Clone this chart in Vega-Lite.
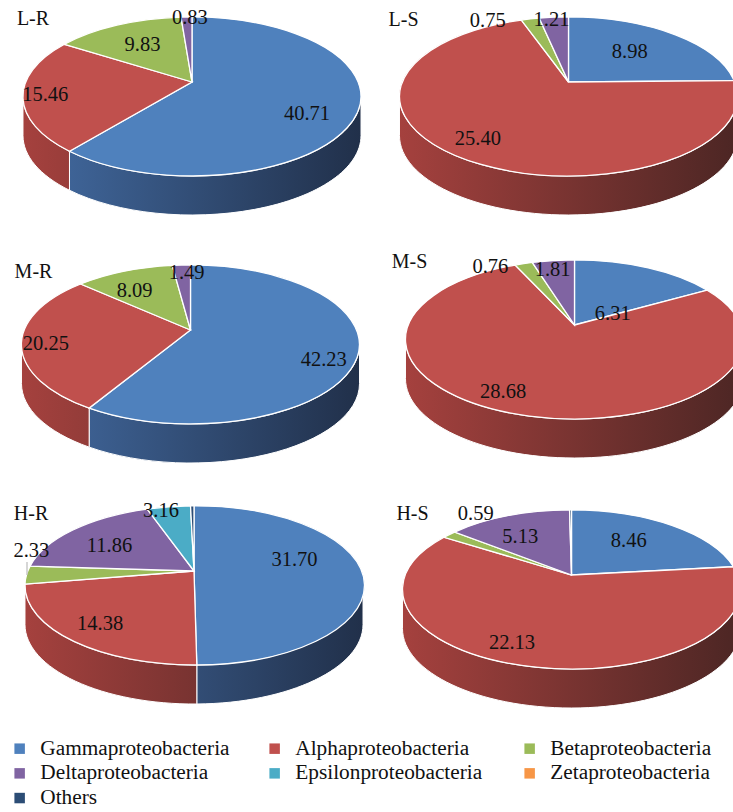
{
"$schema":"https://vega.github.io/schema/vega-lite/v6.json",
"padding":0,
"background":"white",
"config":{"view":{"stroke":null},"font":"Liberation Serif"},
"data":{"values":[
{"panel":"L-R","category":"Gammaproteobacteria","value":40.71},
{"panel":"L-R","category":"Alphaproteobacteria","value":15.46},
{"panel":"L-R","category":"Betaproteobacteria","value":9.83},
{"panel":"L-R","category":"Deltaproteobacteria","value":0.83},
{"panel":"L-S","category":"Gammaproteobacteria","value":8.98},
{"panel":"L-S","category":"Alphaproteobacteria","value":25.40},
{"panel":"L-S","category":"Betaproteobacteria","value":0.75},
{"panel":"L-S","category":"Deltaproteobacteria","value":1.21},
{"panel":"M-R","category":"Gammaproteobacteria","value":42.23},
{"panel":"M-R","category":"Alphaproteobacteria","value":20.25},
{"panel":"M-R","category":"Betaproteobacteria","value":8.09},
{"panel":"M-R","category":"Deltaproteobacteria","value":1.49},
{"panel":"M-S","category":"Gammaproteobacteria","value":6.31},
{"panel":"M-S","category":"Alphaproteobacteria","value":28.68},
{"panel":"M-S","category":"Betaproteobacteria","value":0.76},
{"panel":"M-S","category":"Deltaproteobacteria","value":1.81},
{"panel":"H-R","category":"Gammaproteobacteria","value":31.70},
{"panel":"H-R","category":"Alphaproteobacteria","value":14.38},
{"panel":"H-R","category":"Betaproteobacteria","value":2.33},
{"panel":"H-R","category":"Deltaproteobacteria","value":11.86},
{"panel":"H-R","category":"Epsilonproteobacteria","value":3.16},
{"panel":"H-R","category":"Others","value":0.25},
{"panel":"H-S","category":"Gammaproteobacteria","value":8.46},
{"panel":"H-S","category":"Alphaproteobacteria","value":22.13},
{"panel":"H-S","category":"Betaproteobacteria","value":0.59},
{"panel":"H-S","category":"Deltaproteobacteria","value":5.13},
{"panel":"H-S","category":"Others","value":0.08}
]},
"transform":[
{"calculate":"substring(datum.panel,0,1)","as":"level"},
{"calculate":"substring(datum.panel,2,3)","as":"site"},
{"calculate":"indexof(['Gammaproteobacteria','Alphaproteobacteria','Betaproteobacteria','Deltaproteobacteria','Epsilonproteobacteria','Zetaproteobacteria','Others'],datum.category)","as":"i"},
{"window":[{"op":"sum","field":"value","as":"cum"}],"sort":[{"field":"i"}],"groupby":["panel"]},
{"joinaggregate":[{"op":"sum","field":"value","as":"total"}],"groupby":["panel"]},
{"calculate":"{'L-R':[192,82],'L-S':[201.5,82],'M-R':[190.5,85],'M-S':[207.5,80],'H-R':[194,81],'H-S':[204.5,85]}[datum.panel]","as":"o"},
{"calculate":"datum.o[0]","as":"ox"},
{"calculate":"datum.o[1]","as":"oy"},
{"calculate":"2*PI*(datum.cum-datum.value)/datum.total","as":"t0"},
{"calculate":"2*PI*datum.cum/datum.total","as":"t1"},
{"calculate":"166.2*sin(datum.t0)/(1+0.182*cos(datum.t0))","as":"x0"},
{"calculate":"-76.9*cos(datum.t0)/(1+0.182*cos(datum.t0))","as":"y0"},
{"calculate":"166.2*sin(datum.t1)/(1+0.182*cos(datum.t1))","as":"x1"},
{"calculate":"-76.9*cos(datum.t1)/(1+0.182*cos(datum.t1))","as":"y1"},
{"calculate":"atan2((datum.y0-14.5)/79.5,datum.x0/169)","as":"a0"},
{"calculate":"atan2((datum.y1-14.5)/79.5,datum.x1/169)","as":"a1"},
{"calculate":"((datum.a1-datum.a0+4*PI)%(2*PI))>PI?1:0","as":"large"},
{"calculate":"'M0,0L'+round(datum.x0*100)/100+','+round(datum.y0*100)/100+'A169,79.5 0 '+datum.large+' 1 '+round(datum.x1*100)/100+','+round(datum.y1*100)/100+'Z'","as":"facePath"},
{"calculate":"max(datum.t0,1.754)","as":"ra"},
{"calculate":"min(datum.t1,4.529)","as":"rb"},
{"calculate":"166.2*sin(datum.ra)/(1+0.182*cos(datum.ra))","as":"xa"},
{"calculate":"-76.9*cos(datum.ra)/(1+0.182*cos(datum.ra))","as":"ya"},
{"calculate":"166.2*sin(datum.rb)/(1+0.182*cos(datum.rb))","as":"xb"},
{"calculate":"-76.9*cos(datum.rb)/(1+0.182*cos(datum.rb))","as":"yb"},
{"calculate":"'M'+round(datum.xa*100)/100+','+round(datum.ya*100)/100+'A169,79.5 0 0 1 '+round(datum.xb*100)/100+','+round(datum.yb*100)/100+'L'+round(datum.xb*100)/100+','+round((datum.yb+39)*100)/100+'A169,79.5 0 0 0 '+round(datum.xa*100)/100+','+round((datum.ya+39)*100)/100+'Z'","as":"rimPath"},
{"calculate":"(datum.xb+169)/338","as":"tl"},
{"calculate":"(datum.xa+169)/338","as":"tr"},
{"calculate":"datum.i==0?'rgb('+round(67-34*datum.tl)+','+round(107-59*datum.tl)+','+round(162-88*datum.tl)+')':'rgb('+round(165-89*datum.tl)+','+round(65-27*datum.tl)+','+round(62-26*datum.tl)+')'","as":"cl"},
{"calculate":"datum.i==0?'rgb('+round(67-34*datum.tr)+','+round(107-59*datum.tr)+','+round(162-88*datum.tr)+')':'rgb('+round(165-89*datum.tr)+','+round(65-27*datum.tr)+','+round(62-26*datum.tr)+')'","as":"cr"},
{"calculate":"{gradient:'linear',x1:0,y1:0,x2:1,y2:0,stops:[{offset:0,color:datum.cl},{offset:1,color:datum.cr}]}","as":"rimFill"},
{"calculate":"(datum.t0+datum.t1)/2","as":"tm"},
{"calculate":"{'L-R0':[-10,11],'L-R1':[-20,4],'L-R2':[6,6],'L-R3':[2,-15],'L-S0':[-16,6],'L-S1':[-7,1],'L-S2':[-52,-14],'L-S3':[-6,-13],'M-R0':[7,14],'M-R1':[-18,5],'M-R2':[-6,5],'M-R3':[3,-8],'M-S0':[-16,32],'M-S1':[-25,1],'M-S2':[-46,-12],'M-S3':[-6,-7],'H-R0':[-24,-11],'H-R1':[-1,2],'H-R2':[-37,-23],'H-R3':[5,6],'H-R4':[-14,-12],'H-S0':[-16,4],'H-S1':[-25,0],'H-S2':[-4,-31],'H-S3':[-4,6]}[datum.panel+datum.i]","as":"nudge"},
{"calculate":"datum.nudge?datum.ox+0.75*166.2*sin(datum.tm)/(1+0.182*cos(datum.tm))+datum.nudge[0]:datum.ox","as":"lx"},
{"calculate":"datum.nudge?datum.oy-0.75*76.9*cos(datum.tm)/(1+0.182*cos(datum.tm))+datum.nudge[1]:datum.oy","as":"ly"},
{"calculate":"format(datum.value,'.2f')","as":"valueText"},
{"calculate":"{'L-R':[-159,-63],'L-S':[-165,-62],'M-R':[-157,-58],'M-S':[-165,-63],'H-R':[-163,-57],'H-S':[-159,-61]}[datum.panel]","as":"pl"},
{"calculate":"datum.ox+datum.pl[0]","as":"px"},
{"calculate":"datum.oy+datum.pl[1]","as":"py"},
{"calculate":"datum.ox-167","as":"leadX"},
{"calculate":"datum.oy-9","as":"leadY"},
{"calculate":"datum.oy+4","as":"leadY2"}
],
"spacing":0,
"bounds":"flush",
"facet":{
"row":{"field":"level","type":"nominal","sort":["L","M","H"],"header":null},
"column":{"field":"site","type":"nominal","sort":["R","S"],"header":null}
},
"spec":{
"width":366.5,
"height":245,
"encoding":{
"x":{"field":"ox","type":"quantitative","scale":{"domain":[0,366.5],"nice":false,"zero":false},"axis":null},
"y":{"field":"oy","type":"quantitative","scale":{"domain":[0,245],"reverse":true,"nice":false,"zero":false},"axis":null}
},
"layer":[
{"transform":[{"filter":"datum.rb>datum.ra"}],
"mark":{"type":"point","filled":true,"size":4,"opacity":1,"stroke":"white","strokeWidth":1},
"encoding":{
"shape":{"field":"rimPath","type":"nominal","scale":null},
"fill":{"field":"rimFill","type":"nominal","scale":null}
}},
{"mark":{"type":"point","filled":true,"size":4,"opacity":1,"stroke":"white","strokeWidth":1.3},
"encoding":{
"shape":{"field":"facePath","type":"nominal","scale":null},
"fill":{"field":"category","type":"nominal","title":null,
"scale":{"domain":["Gammaproteobacteria","Alphaproteobacteria","Betaproteobacteria","Deltaproteobacteria","Epsilonproteobacteria","Zetaproteobacteria","Others"],"range":["#4f81bd","#c0504d","#9bbb59","#8064a2","#4bacc6","#f79646","#2c4d75"]},
"legend":{"orient":"none","legendX":9,"legendY":738,"columns":3,"direction":"horizontal","symbolType":"square","symbolSize":110,"symbolStrokeWidth":0,"labelFont":"Liberation Serif","labelFontSize":21.3,"labelColor":"#111111","labelLimit":240,"columnPadding":34,"rowPadding":2.7,"gridAlign":"all","padding":0,"labelOffset":10}
}
}},
{"transform":[{"filter":"datum.value==2.33"}],
"mark":{"type":"rule","color":"#bbbbbb","strokeWidth":1.2},
"encoding":{"x":{"field":"leadX","type":"quantitative"},"y":{"field":"leadY","type":"quantitative"},"y2":{"field":"leadY2"}}},
{"transform":[{"filter":"datum.nudge"}],
"mark":{"type":"text","font":"Liberation Serif","fontSize":20.5,"color":"#111111","align":"center","baseline":"middle"},
"encoding":{"x":{"field":"lx","type":"quantitative"},"y":{"field":"ly","type":"quantitative"},"text":{"field":"valueText"}}},
{"transform":[{"filter":"datum.i==0"}],
"mark":{"type":"text","font":"Liberation Serif","fontSize":20,"color":"#111111","align":"center","baseline":"middle"},
"encoding":{"x":{"field":"px","type":"quantitative"},"y":{"field":"py","type":"quantitative"},"text":{"field":"panel"}}}
]
}
}
